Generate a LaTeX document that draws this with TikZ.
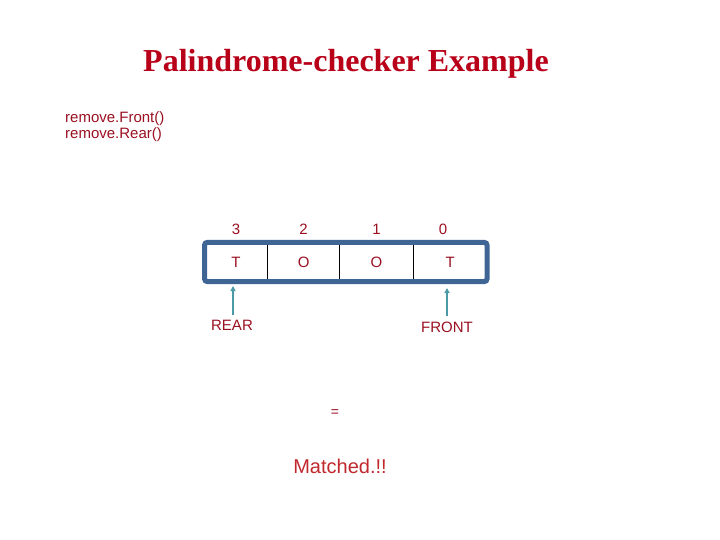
\documentclass[tikz,border=0pt]{standalone}
\usepackage{fontspec}
\setmainfont{Liberation Sans}
\newfontfamily\titlefont{Liberation Serif}
\usetikzlibrary{arrows.meta, positioning}
\definecolor{titlered}{HTML}{B80018}
\definecolor{textred}{HTML}{9A1020}
\definecolor{matchred}{HTML}{C0282D}
\definecolor{framblue}{HTML}{3F6595}
\definecolor{arrteal}{HTML}{4C9AA8}

\begin{document}
\begin{tikzpicture}[
  x=1pt, y=-1pt,
  title/.style={text=titlered, font=\titlefont\bfseries\fontsize{32}{36}\selectfont},
  lbl/.style={text=textred, font=\fontsize{15}{17}\selectfont, inner sep=0pt},
  cell/.style={minimum height=39pt, inner sep=0pt, text=textred, font=\fontsize{15}{17}\selectfont},
  idx/.style={text=textred, font=\fontsize{15}{17}\selectfont, inner sep=0pt, anchor=base},
  arr/.style={-{Triangle[length=5pt, width=5pt]}, draw=arrteal, line width=1.8pt}
]
\useasboundingbox (0,0) rectangle (720,540);

\node[title] (title) at (346,64) {Palindrome-checker Example};
\node[lbl, anchor=west] (rmfront) at (65,119) {remove.Front()};
\node[lbl, anchor=west] (rmrear) at (65,135) {remove.Rear()};

% the deque cells
\node[cell, minimum width=62.5pt, anchor=west] (c3) at (204.5,262) {T};
\node[cell, minimum width=72pt, right=0pt of c3] (c2) {O};
\node[cell, minimum width=73pt, right=0pt of c2] (c1) {O};
\node[cell, minimum width=73.5pt, right=0pt of c1] (c0) {T};
\draw[black, line width=1pt] (c3.north east) -- (c3.south east);
\draw[black, line width=1pt] (c2.north east) -- (c2.south east);
\draw[black, line width=1pt] (c1.north east) -- (c1.south east);
\draw[framblue, line width=5pt, rounded corners=3pt] (c3.north west) rectangle (c0.south east);

\node[idx] (i3) at (c3 |- 0,234) {3};
\node[idx] (i2) at (c2 |- 0,234) {2};
\node[idx] (i1) at (c1 |- 0,234) {1};
\node[idx, xshift=-7pt] (i0) at (c0 |- 0,234) {0};

\node[lbl] (rear) at (232,325) {REAR};
\node[lbl] (front) at (447,327) {FRONT};
\coordinate (reartip) at (233,286);
\coordinate (fronttip) at (447,288);
\draw[arr] ([yshift=5pt]rear.north -| reartip) -- (reartip);
\draw[arr] ([yshift=5pt]front.north -| fronttip) -- (fronttip);

\node[lbl, font=\fontsize{14}{16}\selectfont] (eq) at (335,413) {=};
\node[text=matchred, font=\fontsize{20}{24}\selectfont] (match) at (340,466) {Matched.!!};
\end{tikzpicture}
\end{document}
